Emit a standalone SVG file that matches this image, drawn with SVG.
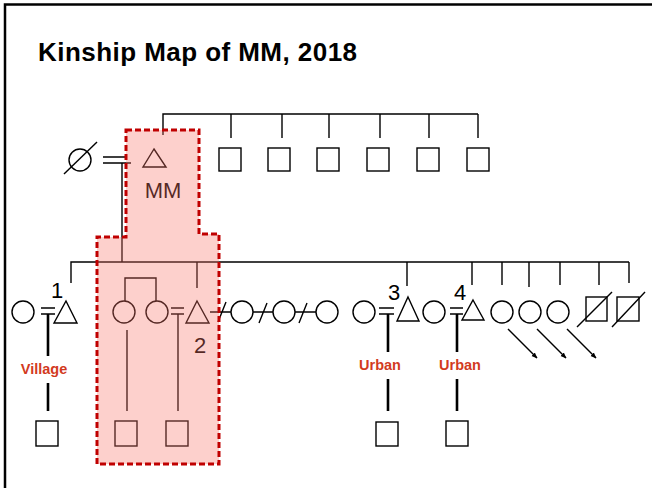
<svg xmlns="http://www.w3.org/2000/svg" width="652" height="488" viewBox="0 0 652 488">
<defs>
<marker id="ah" viewBox="0 0 10 10" refX="9" refY="5" markerWidth="6" markerHeight="6" orient="auto" markerUnits="userSpaceOnUse">
<path d="M0,1 L10,5 L0,9 z" fill="#000"/>
</marker>
<style>
.s{fill:#fff;stroke:#000;stroke-width:1.4}
.l{fill:none;stroke:#000;stroke-width:1.4}
.t{stroke:#000;stroke-width:2.6}
.num{font-family:"Liberation Sans",Arial,sans-serif;font-size:22px;fill:#000}
.lab{font-family:"Liberation Sans",Arial,sans-serif;font-size:14.5px;font-weight:bold;fill:#d23a1e}
</style>
</defs>
<rect x="0" y="0" width="652" height="488" fill="#fff"/>
<path d="M5,488 V4.5 H652" fill="none" stroke="#000" stroke-width="2.5"/>
<text x="38" y="61" font-family="'Liberation Sans',Arial,sans-serif" font-weight="bold" font-size="26" textLength="319" lengthAdjust="spacing">Kinship Map of MM, 2018</text>

<g id="connectors">
<path class="l" d="M163,135 V114 H478 M231,114 V138 M282,114 V138 M329,114 V138 M380,114 V138 M429,114 V138 M478,114 V138"/>
<path class="l" d="M103,157 H127 M103,163 H131 M122,163 V262"/>
<path class="l" d="M71,283 V262 H629 M197,262 V288 M407,262 V286 M472,262 V285 M502,262 V285 M529,262 V287 M560,262 V285 M599,262 V285 M629,262 V283"/>
<path class="l" d="M41,308 H55 M41,314 H55"/>
<path class="t" d="M48,314 V356 M48,383 V411"/>
<path class="l" d="M125,301 V278 H156 V301"/>
<path class="l" d="M171,308 H184 M171,314 H184 M178,314 V411 M127,330 V411"/>
<path class="l" d="M210,312 H231 M253,312 H273 M295,312 H316 M218,322 L226,302 M259,323 L267,303 M299,323 L307,303"/>
<path class="l" d="M379,308 H394 M379,314 H394"/>
<path class="t" d="M388,314 V352 M388,379 V411"/>
<path class="l" d="M450,308 H463 M450,314 H463"/>
<path class="t" d="M457,314 V352 M457,379 V411"/>
<line class="l" x1="508" y1="329" x2="537" y2="358" marker-end="url(#ah)"/>
<line class="l" x1="537" y1="329" x2="566" y2="358" marker-end="url(#ah)"/>
<line class="l" x1="567" y1="329" x2="596" y2="358" marker-end="url(#ah)"/>
</g>

<g id="wife-deceased"><circle class="s" cx="80" cy="160" r="11"/><path class="l" d="M64,174 L97,142"/></g>
<g id="MM"><path class="s" d="M154,149 L166,167 L143,167 z"/><text x="163" y="198" class="num" text-anchor="middle">MM</text></g>
<g id="sib-top-1"><rect class="s" x="219" y="148" width="22" height="23"/></g>
<g id="sib-top-2"><rect class="s" x="268" y="148" width="22" height="23"/></g>
<g id="sib-top-3"><rect class="s" x="317" y="148" width="22" height="23"/></g>
<g id="sib-top-4"><rect class="s" x="367" y="148" width="22" height="23"/></g>
<g id="sib-top-5"><rect class="s" x="417" y="148" width="22" height="23"/></g>
<g id="sib-top-6"><rect class="s" x="467" y="148" width="22" height="23"/></g>

<g id="wife-1"><circle class="s" cx="23" cy="312" r="11"/></g>
<g id="son-1"><path class="s" d="M66,301 L77,323 L54,323 z"/><text x="57" y="298" class="num" text-anchor="middle">1</text></g>
<g id="village"><text x="44" y="374" class="lab" text-anchor="middle">Village</text></g>
<g id="gs-1"><rect class="s" x="36" y="421" width="22" height="25"/></g>

<g id="wife-2a"><circle class="s" cx="124" cy="312" r="11"/></g>
<g id="wife-2b"><circle class="s" cx="157" cy="312" r="11"/></g>
<g id="son-2"><path class="s" d="M197,301 L209,323 L186,323 z"/><text x="200" y="353" class="num" text-anchor="middle">2</text></g>
<g id="gs-2a"><rect class="s" x="115" y="421" width="22" height="25"/></g>
<g id="gs-2b"><rect class="s" x="166" y="421" width="22" height="25"/></g>

<g id="wife-c1"><circle class="s" cx="242" cy="312" r="11"/></g>
<g id="wife-c2"><circle class="s" cx="284" cy="312" r="11"/></g>
<g id="wife-c3"><circle class="s" cx="327" cy="312" r="11"/></g>

<g id="wife-3"><circle class="s" cx="364" cy="312" r="11"/></g>
<g id="son-3"><path class="s" d="M408,297 L419,321 L397,321 z"/><text x="394" y="300" class="num" text-anchor="middle">3</text></g>
<g id="urban-3"><text x="380" y="370" class="lab" text-anchor="middle">Urban</text></g>
<g id="gs-3"><rect class="s" x="376" y="422" width="22" height="24"/></g>

<g id="wife-4"><circle class="s" cx="434" cy="312" r="11"/></g>
<g id="son-4"><path class="s" d="M473,300 L484,320 L462,320 z"/><text x="460" y="300" class="num" text-anchor="middle">4</text></g>
<g id="urban-4"><text x="460" y="370" class="lab" text-anchor="middle">Urban</text></g>
<g id="gs-4"><rect class="s" x="446" y="421" width="22" height="25"/></g>

<g id="dau-1"><circle class="s" cx="502" cy="312" r="11"/></g>
<g id="dau-2"><circle class="s" cx="530" cy="312" r="11"/></g>
<g id="dau-3"><circle class="s" cx="558" cy="312" r="11"/></g>
<g id="son-d1"><rect class="s" x="586" y="297" width="21" height="24"/><path class="l" d="M577,327 L612,292"/></g>
<g id="son-d2"><rect class="s" x="617" y="297" width="22" height="24"/><path class="l" d="M612,327 L645,292"/></g>

<g id="highlight">
<path d="M126,130 H199 V234 H219 V464 H97 V237 H126 Z" fill="#f8766a" fill-opacity="0.34"/>
<path d="M126,130 H199 V234 H219 V464 H97 V237 H126 Z" fill="none" stroke="#c00000" stroke-width="3" stroke-dasharray="6,3"/>
</g>
</svg>
